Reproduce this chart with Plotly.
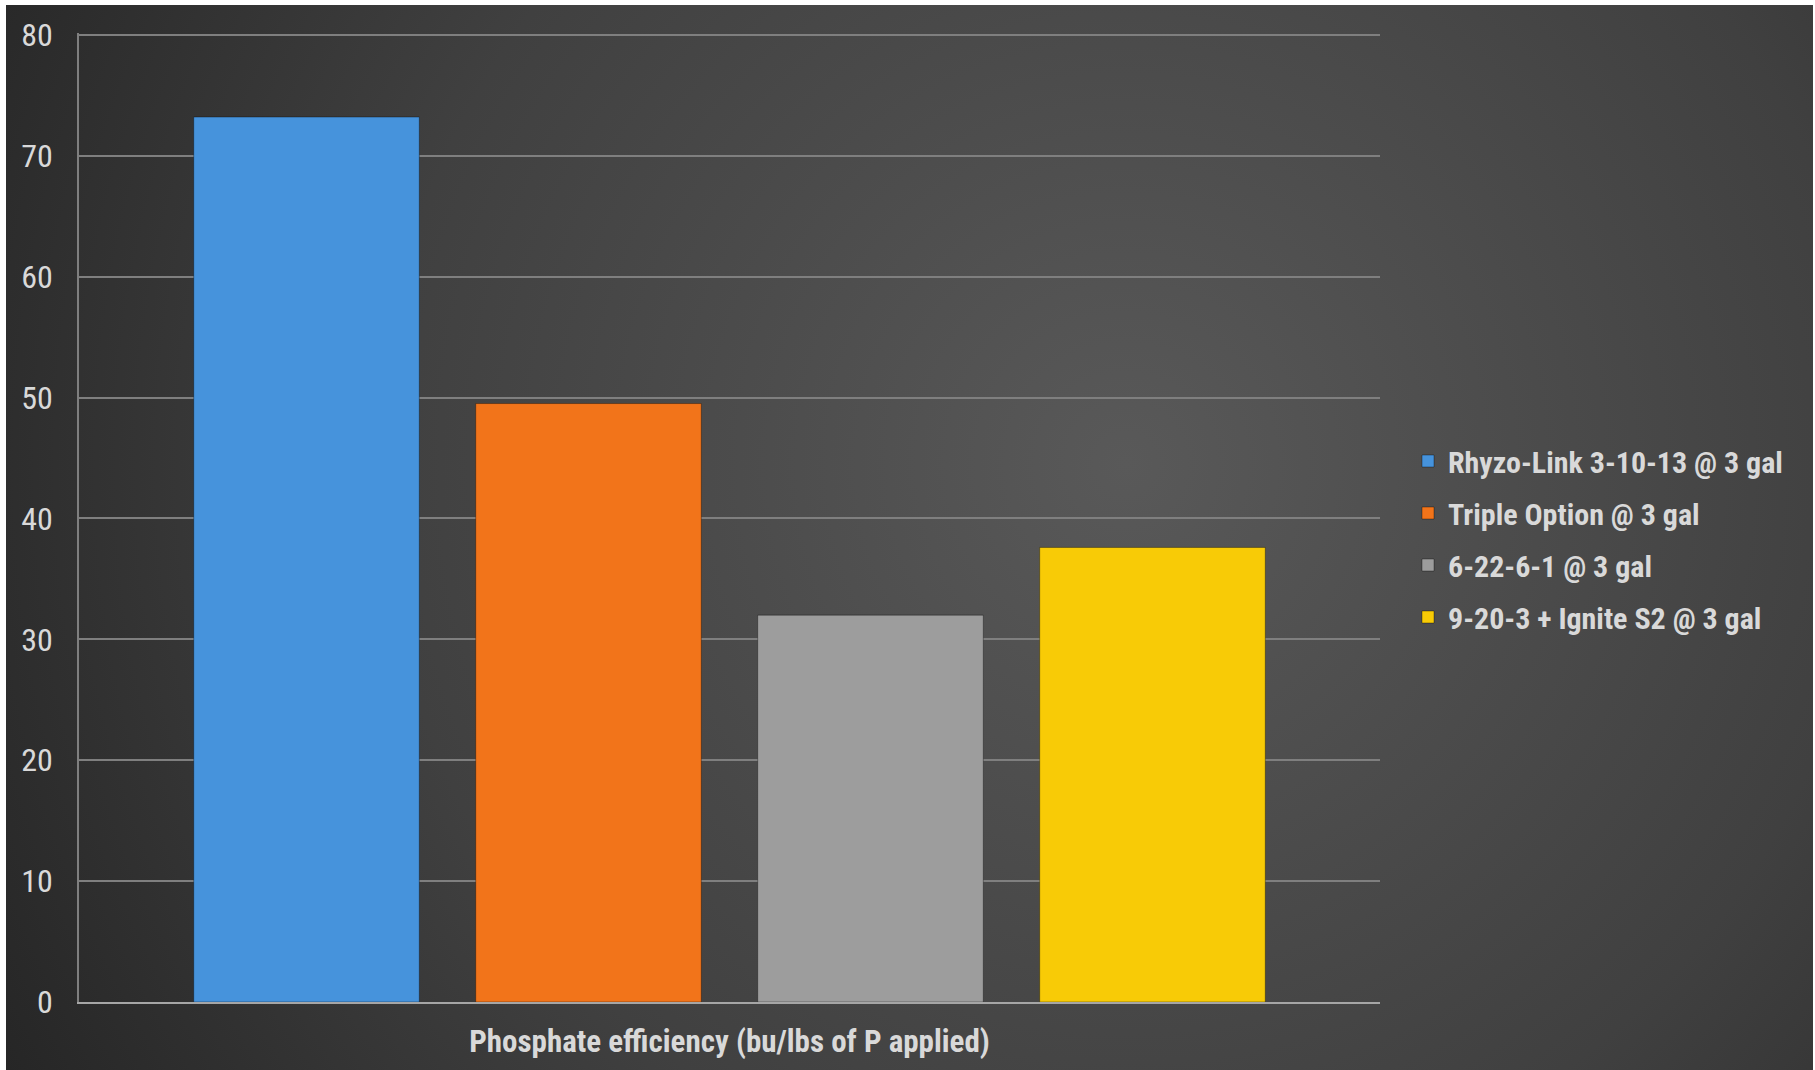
import plotly.graph_objects as go

category = ["Phosphate efficiency (bu/lbs of P applied)"]
series_names = [
    "Rhyzo-Link 3-10-13 @ 3 gal",
    "Triple Option @ 3 gal",
    "6-22-6-1 @ 3 gal",
    "9-20-3 + Ignite S2 @ 3 gal",
]
series_values = [73.2, 49.5, 32.0, 37.6]
series_colors = ["#4693dc", "#f2741a", "#9d9d9d", "#f8cb06"]
y_ticks = [0, 10, 20, 30, 40, 50, 60, 70, 80]

W, H = 1815, 1070
L, R, T, B = 79, 435, 33, 68
pw, ph = W - L - R, H - T - B

FONT = "'Liberation Sans Narrow', 'Arial Narrow', 'Roboto Condensed', Arial, sans-serif"
TXT = "#d9d9d9"

fig = go.Figure()
for i, (name, val, col) in enumerate(zip(series_names, series_values, series_colors)):
    fig.add_trace(go.Bar(
        x=category, y=[val], name=name, marker_color=col,
        marker_line=dict(color="rgba(0,0,0,0.35)", width=1),
        legendgroup=f"g{i}",
    ))

svg = ("<svg xmlns='http://www.w3.org/2000/svg' width='1806' height='1065' viewBox='0 0 1806 1065' preserveAspectRatio='none'>"
       "<defs><radialGradient id='g' cx='0.62' cy='0.43' r='0.75' gradientTransform='translate(0.62 0.43) scale(1 1.7) translate(-0.62 -0.43)'>"
       "<stop offset='0' stop-color='%23595959'/><stop offset='0.55' stop-color='%23404040'/><stop offset='1' stop-color='%23222222'/>"
       "</radialGradient></defs><rect width='1806' height='1065' fill='url(%23g)'/></svg>")
src = "data:image/svg+xml;utf8," + svg

x0 = (6 - L) / pw
y_top = (H - B - 5) / ph
fig.add_layout_image(dict(
    source=src, xref="paper", yref="paper", x=x0, y=y_top,
    sizex=(1813 - 6) / pw, sizey=(H - 5 + 2) / ph, sizing="stretch",
    xanchor="left", yanchor="top", layer="below",
))

fig.update_layout(
    width=W, height=H,
    margin=dict(l=L, r=R, t=T, b=B, pad=0, autoexpand=False),
    paper_bgcolor="white",
    plot_bgcolor="rgba(0,0,0,0)",
    barmode="group", bargap=0.133, bargroupgap=0.2,
    font=dict(family=FONT, color=TXT, size=30),
    showlegend=True,
    legend=dict(
        x=(1408 - L) / pw, xanchor="left", y=(H - B - 539) / ph, yanchor="middle",
        font=dict(family=FONT, size=30, color=TXT, weight="bold"),
        bgcolor="rgba(0,0,0,0)", tracegroupgap=10, itemclick=False,
    ),
    xaxis=dict(
        showgrid=False, showline=True, linecolor="#a6a6a6", linewidth=2,
        tickfont=dict(family=FONT, size=31, color=TXT, weight="bold"),
        ticks="", ticklabelstandoff=11, automargin=False,
    ),
    yaxis=dict(
        range=[0, 80.15], tickvals=y_ticks, showgrid=True, gridcolor="#7f7f7f", gridwidth=1.5,
        showline=True, linecolor="#7f7f7f", linewidth=1.5, zeroline=False,
        tickfont=dict(family=FONT, size=32, color=TXT), ticks="", ticklabelstandoff=18,
        automargin=False,
    ),
)

fig.write_html("out.html")
